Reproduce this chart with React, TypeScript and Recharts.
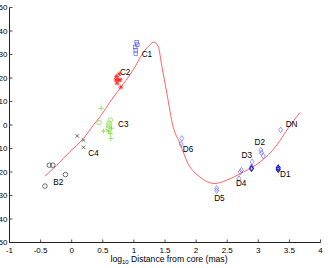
import React from "react";
import { ComposedChart, Line, Scatter, XAxis, YAxis } from "recharts";

const X_TICKS = [-1, -0.5, 0, 0.5, 1, 1.5, 2, 2.5, 3, 3.5, 4];
const Y_TICKS = [-50, -40, -30, -20, -10, 0, 10, 20, 30, 40, 50];

// model curve (red line)
const curveX = [-0.43, -0.24, -0.03, 0.19, 0.35, 0.455, 0.64, 0.83, 0.99, 1.15, 1.26, 1.32, 1.39, 1.45, 1.53, 1.63, 1.74, 1.87, 2.06, 2.3, 2.49, 2.76, 3.03, 3.3, 3.46, 3.67];
const curveY = [-21.8, -17.1, -11.4, -5.7, 0, 3.5, 10.7, 17.5, 23.5, 30.8, 34.2, 35.3, 33.5, 24.9, 13.5, -0.7, -7.8, -16.4, -22.1, -24.9, -23.5, -20, -15.7, -8.5, -2.1, 5.3];

// components
const b2X = [-0.43, -0.36, -0.305, -0.1];
const b2Y = [-26, -17.1, -17.1, -21.1];
const c4X = [0.09, 0.19, 0.19];
const c4Y = [-4.7, -6.4, -9.5];
const c3CircX = [0.44, 0.62, 0.6, 0.6, 0.59];
const c3CircY = [1, 2.1, 0.7, -0.3, -1.4];
const c3PlusX = [0.474, 0.51, 0.59, 0.62, 0.63, 0.64];
const c3PlusY = [7.1, -2.6, -2.6, -3.6, -5.7, -1.4];
const c2X = [0.72, 0.765, 0.71, 0.78, 0.79, 0.73, 0.75];
const c2Y = [20.6, 21.7, 19.2, 19.2, 16.1, 17.8, 19.2];
const c1X = [1.045, 1.055, 1.02, 1.03, 1.03];
const c1Y = [35.2, 34.2, 33.2, 31.8, 30.3];
const dX = [1.77, 1.76, 2.33, 2.33, 2.71, 2.73, 2.69, 2.9, 2.89, 3.04, 3.05, 3.08, 3.36];
const dY = [-5.7, -8.1, -27, -28, -20, -19.2, -22.8, -15.7, -17.8, -10.7, -11.8, -13.2, -2.1];
const dDarkX = [2.89, 3.32, 3.32];
const dDarkY = [-18.5, -18.2, -18.9];

const labelNames = ["C1", "C2", "C3", "C4", "B2", "D6", "D5", "D4", "D3", "D2", "D1", "DN"];
const labelX = [1.125, 0.776, 0.744, 0.267, -0.296, 1.785, 2.29, 2.64, 2.73, 2.94, 3.35, 3.44];
const labelY = [30.2, 22.4, 0.3, -12.1, -24.5, -10.3, -31.3, -24.9, -12.8, -7.1, -20.9, 0.4];

const zip = (xs: number[], ys: number[]) => xs.map((x, i) => ({ x, y: ys[i] }));

const curve = zip(curveX, curveY);
const labels = labelNames.map((name, i) => ({ x: labelX[i], y: labelY[i], name }));

const PLOT_LEFT = 9.5;
const PLOT_RIGHT = 320.5;
const PLOT_TOP = 7.5;
const PLOT_BOTTOM = 242.5;
const AXIS = "#222";
const FONT = "'Liberation Sans', Arial, sans-serif";

const BottomTick = (props: any) => {
  const { x, payload } = props;
  return (
    <g>
      <line x1={x} x2={x} y1={PLOT_BOTTOM} y2={PLOT_BOTTOM - 3} stroke={AXIS} strokeWidth={0.8} />
      <text x={x} y={PLOT_BOTTOM + 10.5} textAnchor="middle" fontSize={8} fontFamily={FONT} fill="#000">
        {payload.value}
      </text>
    </g>
  );
};

const TopTick = (props: any) => (
  <line x1={props.x} x2={props.x} y1={PLOT_TOP} y2={PLOT_TOP + 3} stroke={AXIS} strokeWidth={0.8} />
);

const LeftTick = (props: any) => {
  const { y, payload } = props;
  return (
    <g>
      <line x1={PLOT_LEFT} x2={PLOT_LEFT + 3} y1={y} y2={y} stroke={AXIS} strokeWidth={0.8} />
      <text x={PLOT_LEFT - 2} y={y} dy="0.35em" textAnchor="end" fontSize={8} fontFamily={FONT} fill="#000">
        {payload.value}
      </text>
    </g>
  );
};

const RightTick = (props: any) => (
  <line x1={PLOT_RIGHT} x2={PLOT_RIGHT - 3} y1={props.y} y2={props.y} stroke={AXIS} strokeWidth={0.8} />
);

const XLabel = (props: any) => {
  const vb = props.viewBox || {};
  const cx = vb.x + vb.width / 2 + 4;
  return (
    <text x={cx} y={261.5} textAnchor="middle" fontSize={8.6} fontFamily={FONT} fill="#000">
      log
      <tspan fontSize={6} dy={2.5}>10</tspan>
      <tspan dy={-2.5}> Distance from core (mas)</tspan>
    </text>
  );
};

// marker shapes
const circleShape = (color: string) => (p: any) => (
  <circle cx={p.cx} cy={p.cy} r={2.3} fill="none" stroke={color} strokeWidth={0.7} />
);
const crossShape = (color: string) => (p: any) => {
  const s = 1.8;
  return (
    <path
      d={`M${p.cx - s},${p.cy - s}L${p.cx + s},${p.cy + s}M${p.cx - s},${p.cy + s}L${p.cx + s},${p.cy - s}`}
      stroke={color}
      strokeWidth={0.7}
    />
  );
};
const plusShape = (color: string) => (p: any) => {
  const s = 2.5;
  return (
    <path d={`M${p.cx - s},${p.cy}L${p.cx + s},${p.cy}M${p.cx},${p.cy - s}L${p.cx},${p.cy + s}`} stroke={color} strokeWidth={0.8} />
  );
};
const starShape = (color: string) => (p: any) => {
  const s = 2.4;
  const d = 1.8;
  return (
    <path
      d={`M${p.cx - s},${p.cy}L${p.cx + s},${p.cy}M${p.cx},${p.cy - s}L${p.cx},${p.cy + s}M${p.cx - d},${p.cy - d}L${p.cx + d},${p.cy + d}M${p.cx - d},${p.cy + d}L${p.cx + d},${p.cy - d}`}
      stroke={color}
      strokeWidth={0.8}
    />
  );
};
const squareShape = (color: string) => (p: any) => (
  <rect x={p.cx - 1.8} y={p.cy - 1.8} width={3.6} height={3.6} fill="none" stroke={color} strokeWidth={0.7} />
);
const diamondShape = (color: string, w: number) => (p: any) => (
  <path
    d={`M${p.cx},${p.cy - 2.8}L${p.cx + 2},${p.cy}L${p.cx},${p.cy + 2.8}L${p.cx - 2},${p.cy}Z`}
    fill="none"
    stroke={color}
    strokeWidth={w}
  />
);
const labelShape = (p: any) => (
  <text x={p.cx} y={p.cy} dy="0.35em" fontSize={8.2} fontFamily={FONT} fill="#000">
    {p.payload?.name}
  </text>
);

export default function App() {
  return (
    <div style={{ position: "absolute", left: 0, top: 0, width: 328, height: 268, background: "#fff" }}>
      <ComposedChart width={328} height={268} margin={{ top: PLOT_TOP, right: 328 - PLOT_RIGHT, bottom: 0, left: 0 }}>
        <XAxis
          dataKey="x"
          type="number"
          domain={[-1, 4]}
          ticks={X_TICKS}
          interval={0}
          allowDataOverflow
          height={268 - PLOT_BOTTOM}
          stroke={AXIS}
          tickLine={false}
          tick={BottomTick}
          label={<XLabel />}
        />
        <XAxis
          xAxisId="top"
          orientation="top"
          dataKey="x"
          type="number"
          domain={[-1, 4]}
          ticks={X_TICKS}
          interval={0}
          allowDataOverflow
          height={0}
          stroke={AXIS}
          tickLine={false}
          tick={TopTick}
        />
        <YAxis
          dataKey="y"
          type="number"
          domain={[-50, 50]}
          ticks={Y_TICKS}
          interval={0}
          allowDataOverflow
          width={PLOT_LEFT}
          stroke={AXIS}
          tickLine={false}
          tick={LeftTick}
        />
        <YAxis
          yAxisId="right"
          orientation="right"
          dataKey="y"
          type="number"
          domain={[-50, 50]}
          ticks={Y_TICKS}
          interval={0}
          allowDataOverflow
          width={0}
          stroke={AXIS}
          tickLine={false}
          tick={RightTick}
        />
        <Line data={curve} dataKey="y" type="monotone" stroke="#ff3b3b" strokeWidth={0.8} dot={false} isAnimationActive={false} />
        <Scatter data={zip(b2X, b2Y)} shape={circleShape("#333")} isAnimationActive={false} />
        <Scatter data={zip(c4X, c4Y)} shape={crossShape("#333")} isAnimationActive={false} />
        <Scatter data={zip(c3CircX, c3CircY)} shape={circleShape("#77e033")} isAnimationActive={false} />
        <Scatter data={zip(c3PlusX, c3PlusY)} shape={plusShape("#77e033")} isAnimationActive={false} />
        <Scatter data={zip(c2X, c2Y)} shape={starShape("#ff2020")} isAnimationActive={false} />
        <Scatter data={zip(c1X, c1Y)} shape={squareShape("#5c5cff")} isAnimationActive={false} />
        <Scatter data={zip(dX, dY)} shape={diamondShape("#6a6aff", 0.7)} isAnimationActive={false} />
        <Scatter data={zip(dDarkX, dDarkY)} shape={diamondShape("#1a1ae0", 1.1)} isAnimationActive={false} />
        <Scatter data={labels} shape={labelShape} isAnimationActive={false} />
      </ComposedChart>
    </div>
  );
}
